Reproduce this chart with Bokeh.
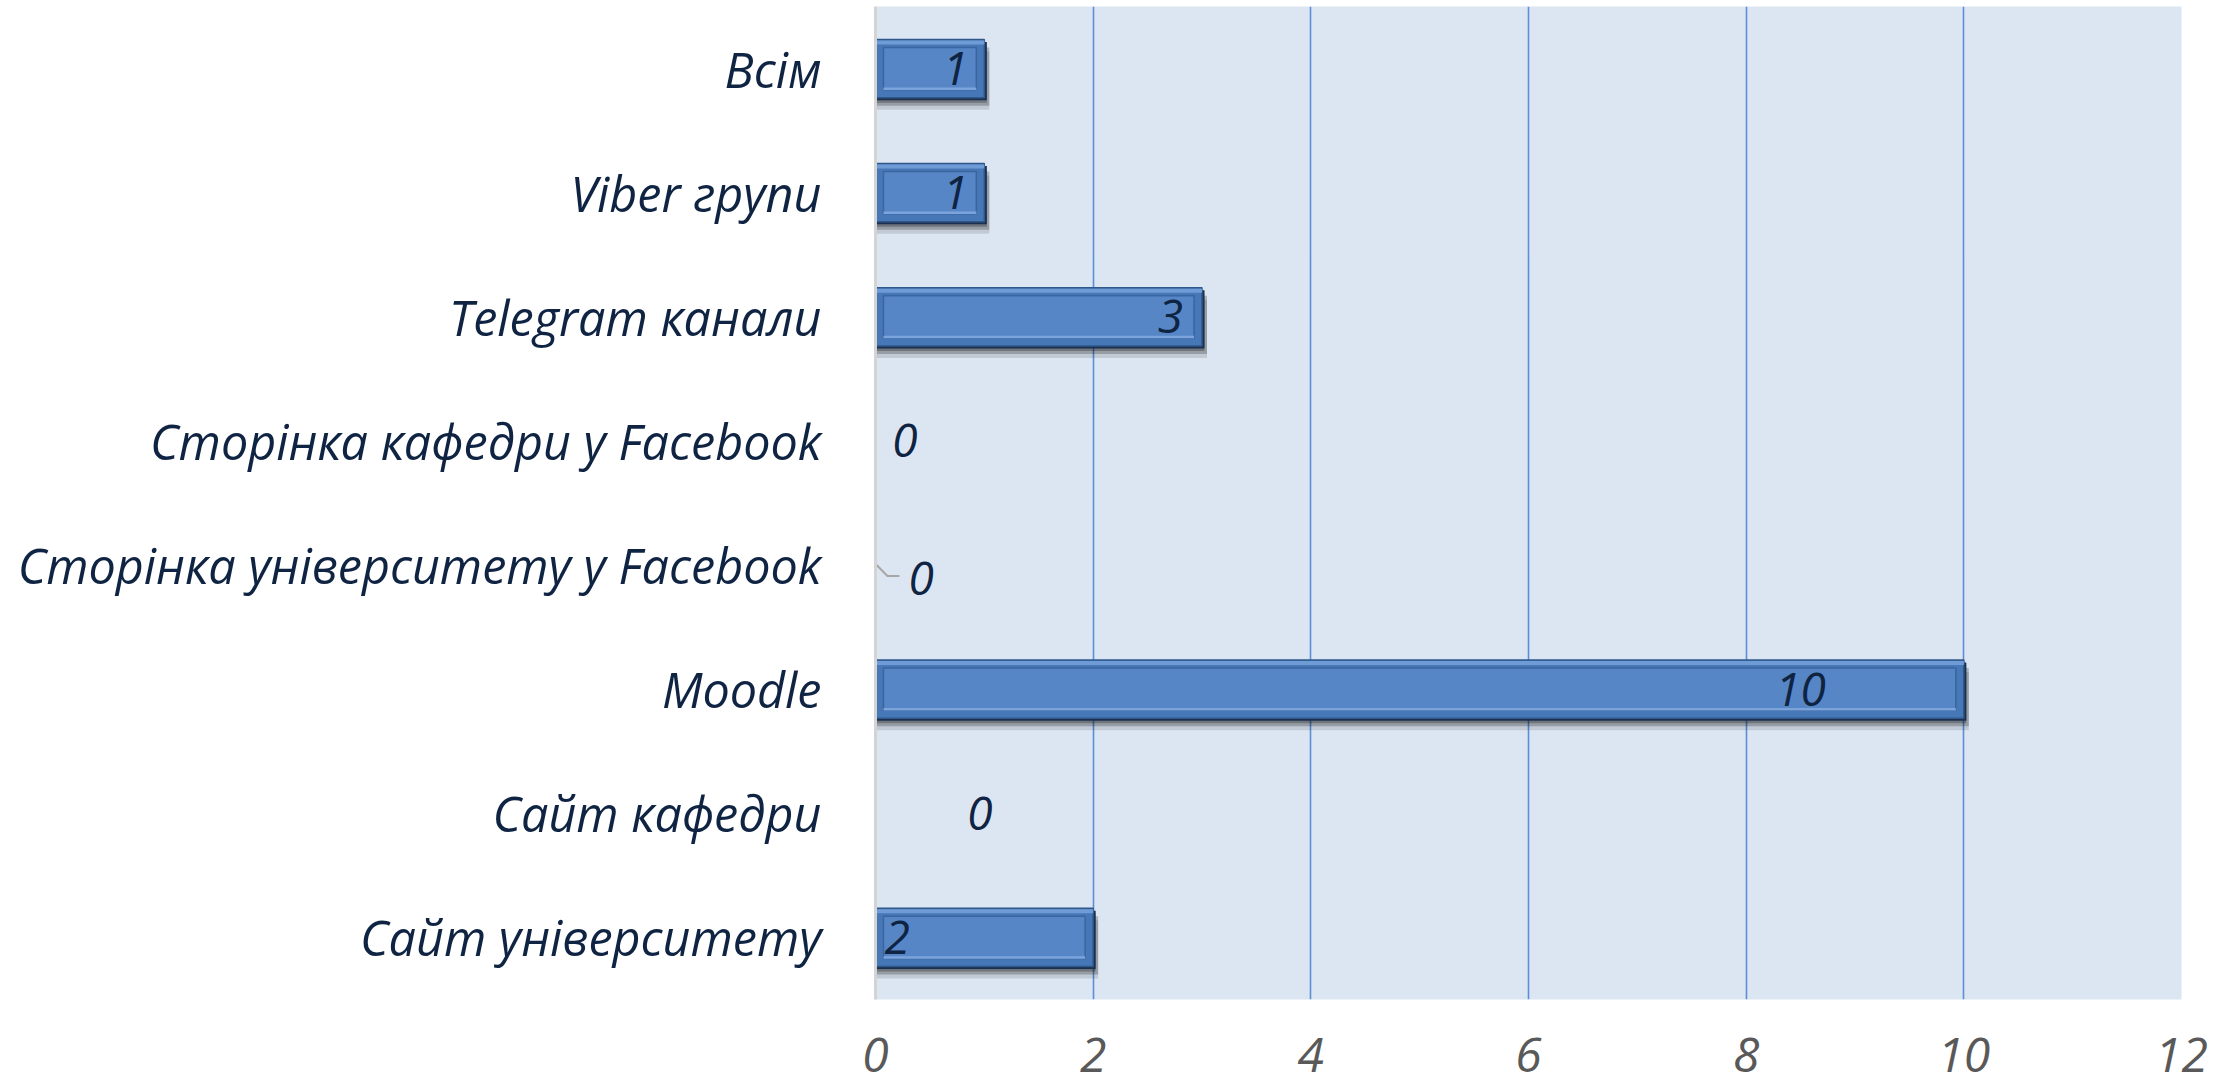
from bokeh.plotting import figure
from bokeh.models import Range1d, FactorRange, FixedTicker, ColumnDataSource
from bokeh.transform import dodge
from bokeh.core.properties import value
from bokeh.embed import file_html
from bokeh.resources import INLINE

# ---- data (bottom to top) ----
categories = ["Сайт університету", "Сайт кафедри", "Moodle",
              "Сторінка університету у Facebook", "Сторінка кафедри у Facebook",
              "Telegram канали", "Viber групи", "Всім"]
counts = [2, 0, 10, 0, 0, 3, 1, 1]
label_texts = ["2", "0", "10", "0", "0", "3", "1", "1"]
# where the reference places each data label (in value units) and its vertical shift
label_x = [0.2, 0.96, 8.5, 0.42, 0.27, 2.71, 0.735, 0.735]
label_shift_px = [0, 0, 0, 13, 0, 0, 0, 0]
x_ticks = [0, 2, 4, 6, 8, 10, 12]

FONT = "Open Sans"
NAVY = "#0f2342"
px = 12.0 / 1306.0  # value units per pixel along x (frame 1306 px wide)

p = figure(width=2230, height=1089, output_backend="svg", toolbar_location=None,
           y_range=FactorRange(factors=categories, range_padding=0),
           x_range=Range1d(0, 12))
p.min_border_left = 875
p.min_border_right = 49
p.min_border_top = 6
p.min_border_bottom = 90
p.outline_line_color = None
p.background_fill_color = "#dce6f2"
p.border_fill_color = "white"

# grid
p.ygrid.grid_line_color = None
p.xgrid.ticker = FixedTicker(ticks=x_ticks)
p.xgrid.grid_line_color = "#5b8ed6"
p.xgrid.grid_line_width = 1.6

# x axis
p.xaxis.ticker = FixedTicker(ticks=x_ticks)
p.xaxis.axis_line_color = None
p.xaxis.major_tick_line_color = None
p.xaxis.minor_tick_line_color = None
p.xaxis.major_label_text_font = FONT
p.xaxis.major_label_text_font_style = "italic"
p.xaxis.major_label_text_font_size = "48px"
p.xaxis.major_label_text_color = "#595959"
p.xaxis.major_label_standoff = 32

# y axis
p.yaxis.axis_line_color = "#d4d4d4"
p.yaxis.axis_line_width = 3
p.yaxis.major_tick_line_color = None
p.yaxis.minor_tick_line_color = None
p.yaxis.major_label_text_font = FONT
p.yaxis.major_label_text_font_style = "italic"
p.yaxis.major_label_text_font_size = "48.5px"
p.yaxis.major_label_text_color = NAVY
p.yaxis.major_label_standoff = 48

# bars (only non-zero ones get a body)
nz_cat = [c for c, v in zip(categories, counts) if v > 0]
nz_val = [v for v in counts if v > 0]
src = ColumnDataSource(dict(
    cat=nz_cat,
    val=nz_val,
    shadow_r=[v + 5 * px for v in nz_val],
    edge_r=[v + 2.5 * px for v in nz_val],
    inner_l=[8 * px for v in nz_val],
    inner_r=[v - 8 * px for v in nz_val],
))
band = 993.0 / len(categories)
H = 0.47

# soft shadow
p.hbar(y=dodge("cat", -12 / band, range=p.y_range), left=0, right="shadow_r", height=H,
       source=src, fill_color="black", fill_alpha=0.12, line_color=None)
p.hbar(y=dodge("cat", -8 / band, range=p.y_range), left=0, right="shadow_r", height=H,
       source=src, fill_color="black", fill_alpha=0.22, line_color=None)
p.hbar(y=dodge("cat", -5 / band, range=p.y_range), left=0, right="edge_r", height=H,
       source=src, fill_color="black", fill_alpha=0.25, line_color=None)
# dark edge (right / bottom)
p.hbar(y=dodge("cat", -2.5 / band, range=p.y_range), left=0, right="edge_r", height=H,
       source=src, fill_color="#1b3050", line_color=None)
# body
p.hbar(y="cat", left=0, right="val", height=H, source=src,
       fill_color="#4677b6", line_color="#2f5889", line_width=1.5)
# top highlight
p.hbar(y=dodge("cat", (H / 2) - 3 / band, range=p.y_range), left=0, right="val",
       height=4 / band, source=src, fill_color="#6f9bd6", line_color=None)
# inner bevel frame
p.hbar(y="cat", left="inner_l", right="inner_r", height=H - 16 / band, source=src,
       fill_color="#5686c6", fill_alpha=1.0, line_color="#3a659f", line_width=1.5)
p.hbar(y=dodge("cat", -(H / 2) + 9 / band, range=p.y_range), left="inner_l", right="inner_r",
       height=2.5 / band, source=src, fill_color="#7ca4dc", line_color=None)

# leader line for one moved label
lead_cat = categories[3]
p.line(x=[0.01, 0.11, 0.22],
       y=[(lead_cat, 0.0), (lead_cat, -11 / band), (lead_cat, -11 / band)],
       line_color="#a6a6a6", line_width=2)

# data labels
p.text(x=label_x, y=categories, text=label_texts, y_offset=label_shift_px,
       text_font=value(FONT), text_font_style="italic", text_font_size="46px",
       text_color=NAVY, text_align="center", text_baseline="middle")

open("out.html", "w").write(file_html(p, INLINE))
